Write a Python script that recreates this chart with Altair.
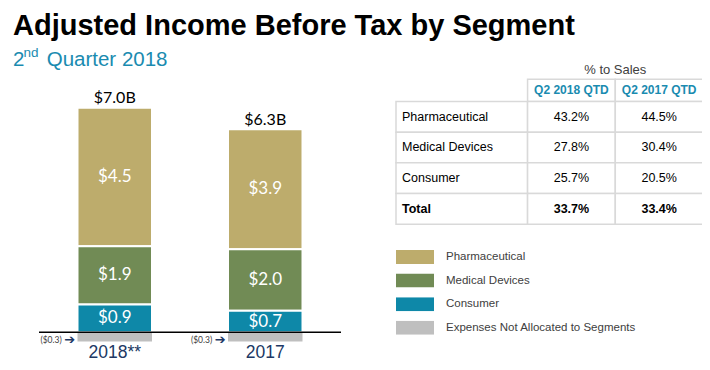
import altair as alt
import pandas as pd

# ---------------- data ----------------
years = ["2018**", "2017"]
segments = ["Pharmaceutical", "Medical Devices", "Consumer", "Expenses Not Allocated to Segments"]
pharma = [4.5, 3.9]
medical = [1.9, 2.0]
consumer = [0.9, 0.7]
expenses = [-0.3, -0.3]
totals = [7.0, 6.3]

row_labels = ["Pharmaceutical", "Medical Devices", "Consumer", "Total"]
col_headers = ["Q2 2018 QTD", "Q2 2017 QTD"]
pct_2018 = [43.2, 27.8, 25.7, 33.7]
pct_2017 = [44.5, 30.4, 20.5, 33.4]
table_title = "% to Sales"

title_text = "Adjusted Income Before Tax by Segment"
subtitle_parts = ["2", "nd", "Quarter 2018"]

# ---------------- styles ----------------
colors = ["#bdac6c", "#718b55", "#0e88a8", "#bfbfbf"]
TEAL = "#1a8bb0"
NAVY = "#203864"
GRID = "#d9d9d9"

# ---------------- bar data ----------------
seg_vals = {segments[0]: pharma, segments[1]: medical, segments[2]: consumer, segments[3]: expenses}
stack_order = {segments[2]: 0, segments[1]: 1, segments[0]: 2, segments[3]: 3}
rows = []
for i, y in enumerate(years):
    for s in segments:
        rows.append({"year": y, "segment": s, "value": seg_vals[s][i], "ord": stack_order[s]})
bars_df = pd.DataFrame(rows)

tot_df = pd.DataFrame({
    "year": years,
    "top": [pharma[i] + medical[i] + consumer[i] for i in range(len(years))],
    "label": ["$%.1fB" % t for t in totals],
})

xscale = alt.Scale(domain=years, range=[32, 332], paddingInner=0.505, paddingOuter=0.2492)
yscale = alt.Scale(domain=[0, 7.3], range=[324.3, 99.7], nice=False, zero=False)
X = alt.X("year:N", scale=xscale, axis=None)

base = alt.Chart(bars_df).transform_stack(
    stack="value", groupby=["year"], as_=["v0", "v1"],
    sort=[alt.SortField("ord", order="ascending")], offset="zero",
).transform_calculate(
    mid="(datum.v0 + datum.v1) / 2",
    label="datum.value < 0 ? '($' + format(-datum.value, '.1f') + ')' : '$' + format(datum.value, '.1f')",
)

bars = base.mark_bar(stroke="white").encode(
    x=X,
    y=alt.Y("v0:Q", scale=yscale, axis=None),
    y2="v1:Q",
    color=alt.Color(
        "segment:N",
        scale=alt.Scale(domain=segments, range=colors),
        legend=alt.Legend(
            title=None, orient="none", legendX=388, legendY=242, padding=0,
            symbolType="M-1,-0.368H1V0.368H-1Z", symbolSize=1444, symbolStrokeWidth=0,
            symbolOpacity=1, clipHeight=14, rowPadding=9.6, labelOffset=12,
            labelFont="Liberation Sans", labelFontSize=11.5, labelColor="#404040", labelLimit=400,
        ),
    ),
    strokeWidth=alt.condition("datum.value < 0", alt.value(0), alt.value(2)),
)

seg_labels = base.transform_filter("datum.value > 0").mark_text(
    color="white", font="Lato", fontSize=17, baseline="middle"
).encode(x=X, y=alt.Y("mid:Q", scale=yscale, axis=None), text="label:N")

axis_line = alt.Chart(pd.DataFrame({"zero": [0]})).mark_rule(color="black", strokeWidth=1.5).encode(
    y=alt.Y("zero:Q", scale=yscale, axis=None), x=alt.value(31), x2=alt.value(333)
)

tot_labels = alt.Chart(tot_df).mark_text(
    color="black", font="Lato", fontSize=16, baseline="alphabetic", dy=-4.5
).encode(x=X, y=alt.Y("top:Q", scale=yscale, axis=None), text="label:N")

neg = base.transform_filter("datum.value < 0")
neg_labels = neg.mark_text(
    color="#404040", font="Lato", fontSize=8.5, align="right", baseline="middle", dx=-53, dy=-1.5
).encode(x=X, y=alt.Y("v1:Q", scale=yscale, axis=None), text="label:N")
neg_arrows = neg.mark_text(
    color=NAVY, font="DejaVu Sans", fontSize=13, fontWeight="bold", align="right", baseline="middle",
    dx=-39.5, dy=-1.5
).encode(x=X, y=alt.Y("v1:Q", scale=yscale, axis=None), text=alt.value("➔"))

year_labels = neg.mark_text(
    color=NAVY, font="Liberation Sans", fontSize=17.5, baseline="alphabetic", dy=16.5
).encode(x=X, y=alt.Y("v1:Q", scale=yscale, axis=None), text="year:N")

bar_group = alt.layer(bars, seg_labels, axis_line, tot_labels, neg_labels, neg_arrows, year_labels)

# ---------------- table ----------------
col_widths = [1.5, 1, 1]
row_heights = [0.72, 1, 1, 1, 1]
col_edges = [0]
for w in col_widths:
    col_edges.append(col_edges[-1] + w)
row_edges = [0]
for h in row_heights:
    row_edges.append(row_edges[-1] + h)

cells = []
for c in (1, 2):
    cells.append({"x0": col_edges[c], "x1": col_edges[c + 1], "y0": row_edges[0], "y1": row_edges[1]})
for r in range(len(row_labels)):
    for c in range(3):
        cells.append({"x0": col_edges[c], "x1": col_edges[c + 1], "y0": row_edges[r + 1], "y1": row_edges[r + 2]})
cells_df = pd.DataFrame(cells)

texts = []
for j, h in enumerate(col_headers):
    texts.append({"kind": "header", "text": h, "x": (col_edges[j + 1] + col_edges[j + 2]) / 2,
                  "y": (row_edges[0] + row_edges[1]) / 2})
for r, lab in enumerate(row_labels):
    yc = (row_edges[r + 1] + row_edges[r + 2]) / 2
    bold = lab == "Total"
    texts.append({"kind": "label_b" if bold else "label", "text": lab, "x": col_edges[0], "y": yc})
    for j, vals in enumerate([pct_2018, pct_2017]):
        texts.append({"kind": "val_b" if bold else "val", "text": "%.1f%%" % vals[r],
                      "x": (col_edges[j + 1] + col_edges[j + 2]) / 2, "y": yc})
texts.append({"kind": "title", "text": table_title, "x": (col_edges[1] + col_edges[3]) / 2, "y": -0.3})
tbl_df = pd.DataFrame(texts)

tx = alt.Scale(domain=[0, col_edges[-1]], range=[388, 695], nice=False, zero=False)
ty = alt.Scale(domain=[0, row_edges[-1]], range=[71.3, 216.3], nice=False, zero=False)

cell_rects = alt.Chart(cells_df).mark_rect(fill="white", stroke=GRID, strokeWidth=1.5).encode(
    x=alt.X("x0:Q", scale=tx, axis=None), x2="x1:Q",
    y=alt.Y("y0:Q", scale=ty, axis=None), y2="y1:Q",
)
tb = alt.Chart(tbl_df)
TX = alt.X("x:Q", scale=tx, axis=None)
TY = alt.Y("y:Q", scale=ty, axis=None)

def tlayer(kind, **kw):
    return tb.transform_filter(alt.datum.kind == kind).mark_text(baseline="middle", **kw).encode(
        x=TX, y=TY, text="text:N")

table_group = alt.layer(
    cell_rects,
    tlayer("label", align="left", dx=6, font="Liberation Sans", fontSize=12.5, color="black"),
    tlayer("label_b", align="left", dx=6, font="Liberation Sans", fontSize=12.5, color="black", fontWeight="bold"),
    tlayer("val", align="center", font="Liberation Sans", fontSize=12.5, color="black"),
    tlayer("val_b", align="center", font="Liberation Sans", fontSize=12.5, color="black", fontWeight="bold"),
    tlayer("header", align="center", font="Liberation Sans", fontSize=12, color=TEAL, fontWeight="bold"),
    tlayer("title", align="center", font="Liberation Sans", fontSize=13, color="#404040"),
)

# ---------------- titles ----------------
one = pd.DataFrame({"t": [title_text]})
title_mark = alt.Chart(one).mark_text(
    align="left", baseline="alphabetic", font="Liberation Sans", fontSize=29, fontWeight="bold", color="black"
).encode(x=alt.value(5), y=alt.value(26.5), text=alt.value(title_text))
sub1 = alt.Chart(one).mark_text(
    align="left", baseline="alphabetic", font="Liberation Sans", fontSize=20.5, color=TEAL
).encode(x=alt.value(5), y=alt.value(57.5), text=alt.value(subtitle_parts[0]))
sub2 = alt.Chart(one).mark_text(
    align="left", baseline="alphabetic", font="Liberation Sans", fontSize=13.5, color=TEAL
).encode(x=alt.value(15.5), y=alt.value(49.2), text=alt.value(subtitle_parts[1]))
sub3 = alt.Chart(one).mark_text(
    align="left", baseline="alphabetic", font="Liberation Sans", fontSize=20.5, color=TEAL
).encode(x=alt.value(38.7), y=alt.value(57.5), text=alt.value(subtitle_parts[2]))
text_group = alt.layer(title_mark, sub1, sub2, sub3)

chart = alt.layer(bar_group, table_group, text_group).resolve_scale(
    x="independent", y="independent"
).properties(
    width=694, height=354, padding=0, background="white",
    autosize=alt.AutoSizeParams(type="none"),
).configure_view(stroke=None)

chart.save("out.html", embed_options={"renderer": "svg", "actions": False})
